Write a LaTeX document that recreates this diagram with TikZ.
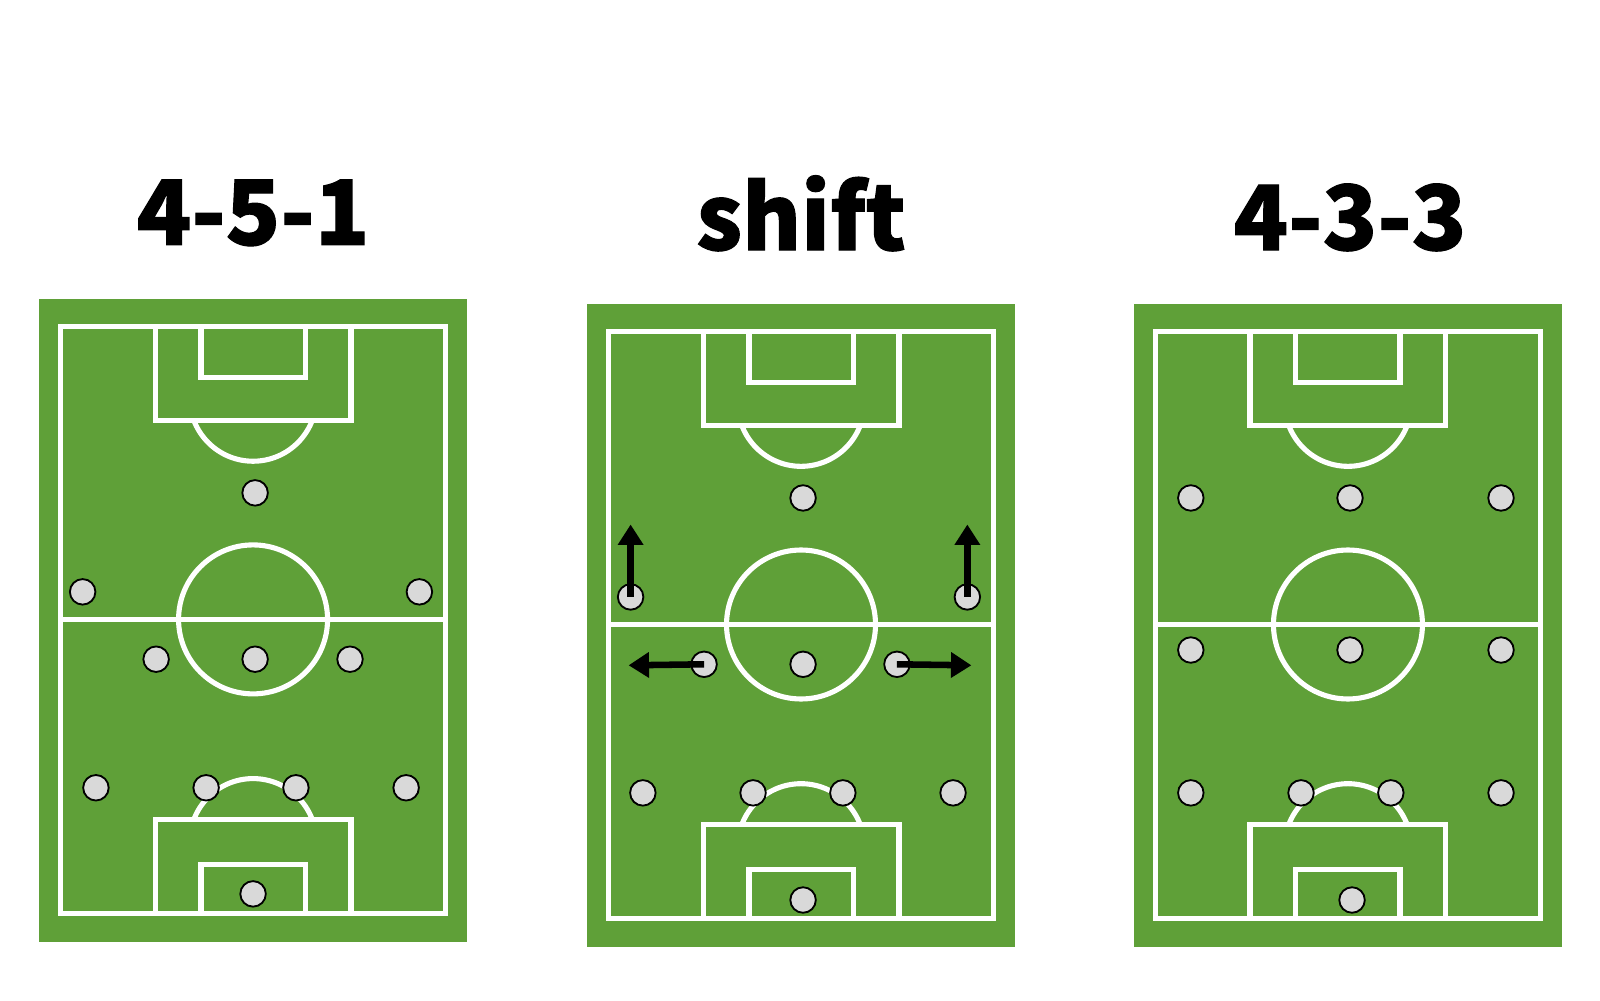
\documentclass[tikz,border=0pt]{standalone}
\usepackage{fontspec}
\newfontfamily\titlefont{Noto Sans CJK SC}[BoldFeatures={FakeBold=1.2}]
\usetikzlibrary{arrows.meta}
\definecolor{pitchgreen}{HTML}{5FA038}
\definecolor{playergray}{HTML}{D9D9D9}
\tikzset{
  pitchline/.style={draw=white, line width=2.5pt},
  player/.style={circle, draw=black, fill=playergray, line width=0.9pt, minimum size=12.5pt, inner sep=0pt},
  move/.style={draw=black, line width=3.2pt, -{Triangle[width=12pt,length=10pt]}},
  title/.style={font=\titlefont\bfseries\fontsize{44}{52}\selectfont, anchor=base}
}
\newcommand\pitchat[2]{%
  \begin{scope}[shift={(#1,#2)}]
    \fill[pitchgreen] (38,293) rectangle (458,923);
    \draw[pitchline] (59,320) rectangle (437,895);
    \draw[pitchline] (59,607) -- (437,607);
    \draw[pitchline] (248,607) circle[radius=73];
    \draw[pitchline] (152,320) rectangle (344,412);
    \draw[pitchline] (197,320) rectangle (299,370);
    \draw[pitchline] (152,895) rectangle (344,803);
    \draw[pitchline] (197,895) rectangle (299,847);
    \begin{scope}
      \clip (100,413) rectangle (400,470);
      \draw[pitchline] (248,390) circle[radius=62];
    \end{scope}
    \begin{scope}
      \clip (100,740) rectangle (400,802);
      \draw[pitchline] (248,825) circle[radius=62];
    \end{scope}
  \end{scope}}
\begin{document}
\begin{tikzpicture}[x=0.5pt,y=-0.5pt]
\useasboundingbox (0,0) rectangle (1568,980);
% titles
\node[title] (t1) at (248,240) {4-5-1};
\node[title] (t2) at (785,245) {shift};
\node[title] (t3) at (1323,245) {4-3-3};
% pitches
\pitchat{0}{0}
\pitchat{537}{5}
\pitchat{1073}{5}
% pitch 1 players (4-5-1)
\node[player] (a1) at (250,483) {};
\node[player] (a2) at (81,580) {};
\node[player] (a3) at (411,580) {};
\node[player] (a4) at (153,646) {};
\node[player] (a5) at (250,646) {};
\node[player] (a6) at (343,646) {};
\node[player] (a7) at (94,772) {};
\node[player] (a8) at (202,772) {};
\node[player] (a9) at (290,772) {};
\node[player] (a10) at (398,772) {};
\node[player] (a11) at (248,876) {};
% pitch 2 players (shift)
\node[player] (b1) at (787,488) {};
\node[player] (b2) at (618,585) {};
\node[player] (b3) at (948,585) {};
\node[player] (b4) at (690,651) {};
\node[player] (b5) at (787,651) {};
\node[player] (b6) at (879,651) {};
\node[player] (b7) at (630,777) {};
\node[player] (b8) at (738,777) {};
\node[player] (b9) at (826,777) {};
\node[player] (b10) at (934,777) {};
\node[player] (b11) at (787,882) {};
% arrows
\coordinate (u1) at (618,514);
\coordinate (u2) at (948,514);
\coordinate (l1) at (616,652);
\coordinate (r1) at (952,652);
\draw[move] (b2.center) -- (u1);
\draw[move] (b3.center) -- (u2);
\draw[move] (b4.center) -- (l1);
\draw[move] (b6.center) -- (r1);
% pitch 3 players (4-3-3)
\node[player] (c1) at (1167,488) {};
\node[player] (c2) at (1323,488) {};
\node[player] (c3) at (1471,488) {};
\node[player] (c4) at (1167,637) {};
\node[player] (c5) at (1323,637) {};
\node[player] (c6) at (1471,637) {};
\node[player] (c7) at (1167,777) {};
\node[player] (c8) at (1275,777) {};
\node[player] (c9) at (1363,777) {};
\node[player] (c10) at (1471,777) {};
\node[player] (c11) at (1325,882) {};
\end{tikzpicture}
\end{document}
